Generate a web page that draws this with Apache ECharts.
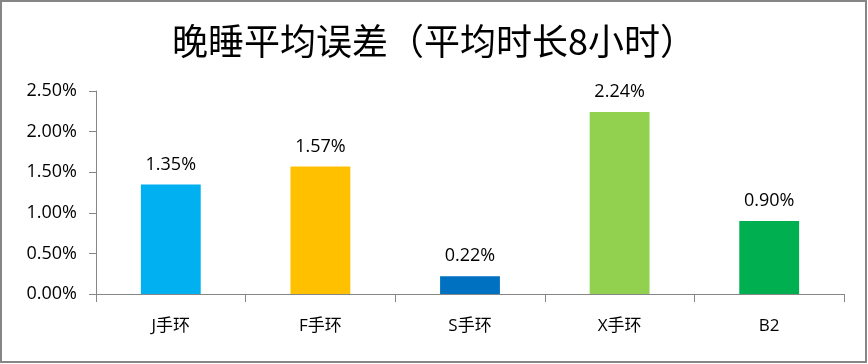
<!DOCTYPE html>
<html>
<head>
<meta charset="utf-8">
<script src="https://cdn.jsdelivr.net/npm/echarts@6/dist/echarts.min.js"></script>
<style>
html,body{margin:0;padding:0;background:#fff;}
#c{width:868px;height:364px;}
</style>
</head>
<body>
<div id="c"></div>
<script>
const titleText = '晚睡平均误差（平均时长8小时）';
const categories = ['J手环', 'F手环', 'S手环', 'X手环', 'B2'];
const values = [1.35, 1.57, 0.22, 2.24, 0.90];
const barColors = ['#00B0F0', '#FFC000', '#0070C0', '#92D050', '#00B050'];
const yTicks = [0, 0.5, 1.0, 1.5, 2.0, 2.5];

const chart = echarts.init(document.getElementById('c'), null, {renderer: 'canvas'});
const latin = '"Open Sans", "Noto Sans CJK SC", sans-serif';
chart.setOption({
  animation: false,
  backgroundColor: '#fff',
  graphic: [{
    type: 'rect',
    shape: {x: 1, y: 1, width: 865, height: 361},
    style: {fill: 'none', stroke: '#868686', lineWidth: 2},
    silent: true,
    z: 100
  }],
  title: {
    text: titleText,
    left: 'center',
    top: 18,
    textStyle: {fontFamily: '"Noto Sans CJK SC", sans-serif', fontSize: 36, fontWeight: 'normal', color: '#000'}
  },
  grid: {left: 96, right: 24, top: 91, bottom: 70, containLabel: false},
  xAxis: {
    type: 'category',
    data: categories,
    axisLine: {lineStyle: {color: '#868686', width: 1}},
    axisTick: {show: true, length: 8, lineStyle: {color: '#868686'}},
    axisLabel: {margin: 24, fontSize: 17, color: '#000', fontFamily: latin}
  },
  yAxis: {
    type: 'value',
    min: yTicks[0],
    max: yTicks[yTicks.length - 1],
    interval: yTicks[1] - yTicks[0],
    splitLine: {show: false},
    axisLine: {show: true, lineStyle: {color: '#868686', width: 1}},
    axisTick: {show: true, length: 7, lineStyle: {color: '#868686'}},
    axisLabel: {margin: 19, fontSize: 18, color: '#000', fontFamily: latin,
      formatter: v => v.toFixed(2) + '%'}
  },
  series: [{
    type: 'bar',
    barWidth: '40%',
    data: values.map((v, i) => ({value: v, itemStyle: {color: barColors[i]}})),
    label: {
      show: true, position: 'top', distance: 11,
      fontSize: 18, color: '#000', fontFamily: latin,
      formatter: p => p.value.toFixed(2) + '%'
    }
  }]
});
</script>
</body>
</html>
